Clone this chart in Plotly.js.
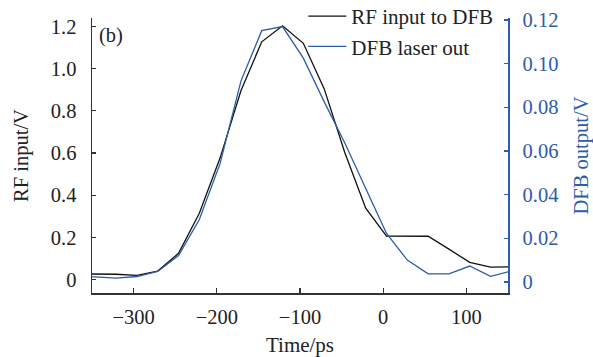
<!DOCTYPE html>
<html>
<head>
<meta charset="utf-8">
<script src="https://cdn.plot.ly/plotly-3.0.1.min.js"></script>
<style>
html,body{margin:0;padding:0;background:#fff;}
#chart{width:593px;height:357px;}
</style>
</head>
<body>
<div id="chart"></div>
<script>
// Time axis (ps)
const timePs = [-371, -346, -321, -296, -271, -246, -221, -196, -171, -146, -121, -96, -71, -46, -21, 4, 29, 54, 79, 104, 129, 154];
// RF input to DFB (V, left axis)
const rfInput = [0.027, 0.027, 0.025, 0.020, 0.040, 0.124, 0.314, 0.577, 0.895, 1.127, 1.203, 1.120, 0.905, 0.600, 0.338, 0.206, 0.204, 0.205, 0.144, 0.081, 0.059, 0.060];
// DFB laser out (V, right axis)
const dfbOut = [0.0023, 0.0023, 0.0018, 0.0025, 0.0048, 0.0121, 0.0286, 0.0543, 0.0920, 0.1151, 0.1170, 0.1025, 0.0826, 0.0635, 0.0428, 0.0222, 0.0100, 0.0037, 0.0037, 0.0073, 0.0026, 0.0050];

const xTicks = [-300, -200, -100, 0, 100];
const yLeftTicks = [0, 0.2, 0.4, 0.6, 0.8, 1.0, 1.2];
const yLeftText = ['0', '0.2', '0.4', '0.6', '0.8', '1.0', '1.2'];
const yRightTicks = [0, 0.02, 0.04, 0.06, 0.08, 0.10, 0.12];
const yRightText = ['0', '0.02', '0.04', '0.06', '0.08', '0.10', '0.12'];

const blue = '#2d5ca8';
const font = 'Liberation Serif, Times New Roman, serif';

const traces = [
  {x: timePs, y: rfInput, type: 'scatter', mode: 'lines', name: 'RF input to DFB',
   line: {color: '#111111', width: 1.3}, yaxis: 'y'},
  {x: timePs, y: dfbOut, type: 'scatter', mode: 'lines', name: 'DFB laser out',
   line: {color: blue, width: 1.3}, yaxis: 'y2'}
];

const layout = {
  width: 593, height: 357,
  margin: {l: 92, r: 85, t: 18, b: 64, autoexpand: false},
  paper_bgcolor: '#fff', plot_bgcolor: '#fff',
  font: {family: font, size: 20, color: '#222'},
  showlegend: true,
  legend: {x: 0.508, y: 1.08, xanchor: 'left', yanchor: 'top', bgcolor: 'rgba(0,0,0,0)',
           itemwidth: 38,
           font: {family: font, size: 21, color: '#222'}, tracegroupgap: 0},
  xaxis: {range: [-350, 150], tickvals: xTicks, ticks: 'inside', ticklen: 5, tickwidth: 1.2,
          tickcolor: '#333', showline: true, linecolor: '#333', linewidth: 1.5,
          showgrid: false, zeroline: false, tickfont: {family: font, size: 20.5, color: '#222'},
          ticklabelstandoff: 5,
          title: {text: 'Time/ps', font: {family: font, size: 21, color: '#222'}, standoff: 12}},
  yaxis: {range: [-0.064, 1.24], tickvals: yLeftTicks, ticktext: yLeftText, ticks: 'inside',
          ticklen: 4, tickwidth: 1.2, tickcolor: '#333', showline: true, linecolor: '#333', linewidth: 1.5,
          showgrid: false, zeroline: false, tickfont: {family: font, size: 20.5, color: '#222'},
          ticklabelstandoff: 10,
          title: {text: 'RF input/V', font: {family: font, size: 20.5, color: '#222'}, standoff: 16}},
  yaxis2: {range: [-0.00505, 0.1209], overlaying: 'y', side: 'right', tickvals: yRightTicks, ticktext: yRightText,
           ticks: 'inside', ticklen: 4, tickwidth: 1.2, tickcolor: blue, showline: true, linecolor: blue, linewidth: 1.5,
           showgrid: false, zeroline: false, tickfont: {family: font, size: 20.5, color: blue},
           ticklabelstandoff: 9,
           title: {text: 'DFB output/V', font: {family: font, size: 20.5, color: blue}, standoff: 17}},
  annotations: [
    {text: '(b)', xref: 'paper', yref: 'paper', x: 0.013, y: 0.935, xanchor: 'left', yanchor: 'middle',
     showarrow: false, font: {family: font, size: 20.5, color: '#222'}}
  ]
};

Plotly.newPlot('chart', traces, layout, {displayModeBar: false, staticPlot: true});
</script>
</body>
</html>
